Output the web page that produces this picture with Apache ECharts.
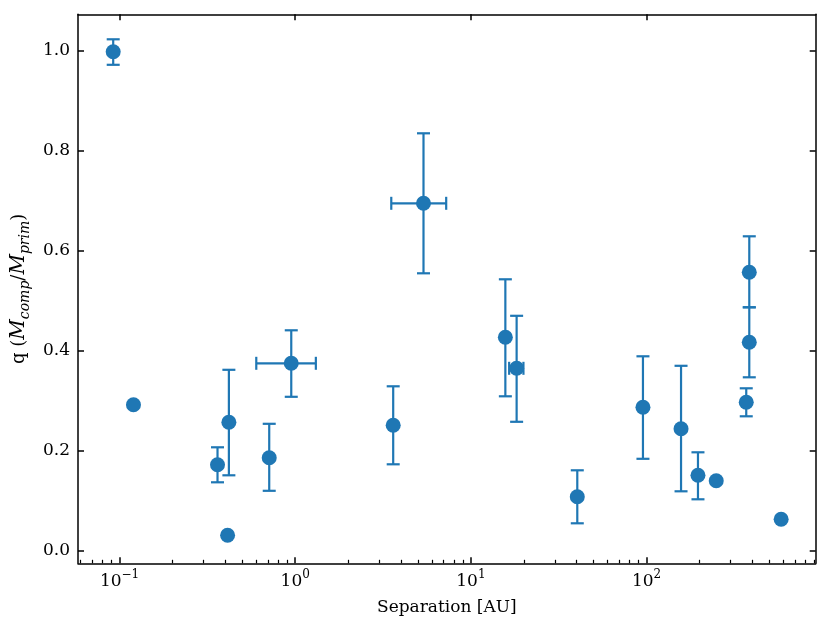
<!DOCTYPE html>
<html>
<head>
<meta charset="utf-8">
<title>Separation vs mass ratio</title>
<script src="https://cdn.jsdelivr.net/npm/echarts@6/dist/echarts.min.js"></script>
<style>
  html, body { margin: 0; padding: 0; background: #fff; }
  #main { width: 831px; height: 634px; }
</style>
</head>
<body>
<div id="main"></div>
<script>
// separation [AU] and mass ratio q
var separation = [0.092, 0.120, 0.361, 0.412, 0.419, 0.711, 0.949, 3.61, 5.37, 15.7, 18.2, 40.3, 95.3, 157, 196, 249, 369, 384, 384, 583];
var massRatio  = [0.998, 0.292, 0.172, 0.031, 0.257, 0.186, 0.375, 0.251, 0.695, 0.427, 0.365, 0.108, 0.287, 0.244, 0.151, 0.140, 0.297, 0.557, 0.417, 0.063];
// error bar bounds (null = no bar)
var qLow    = [0.972, null, 0.137, null, 0.151, 0.120, 0.308, 0.173, 0.555, 0.309, 0.258, 0.055, 0.184, 0.119, 0.103, null, 0.269, 0.487, 0.347, null];
var qHigh   = [1.023, null, 0.207, null, 0.362, 0.254, 0.441, 0.329, 0.835, 0.543, 0.470, 0.161, 0.389, 0.370, 0.197, null, 0.325, 0.629, 0.487, null];
var sepLow  = [null, null, null, null, null, null, 0.600, null, 3.52, null, 16.5, null, null, null, null, null, null, null, null, null];
var sepHigh = [null, null, null, null, null, null, 1.31, null, 7.23, null, 19.9, null, null, null, null, null, null, null, null, null];

// ticks
var xMajor = [0.1, 1, 10, 100];
var xMinor = [0.06, 0.07, 0.08, 0.09,
              0.2, 0.3, 0.4, 0.5, 0.6, 0.7, 0.8, 0.9,
              2, 3, 4, 5, 6, 7, 8, 9,
              20, 30, 40, 50, 60, 70, 80, 90,
              200, 300, 400, 500, 600, 700, 800, 900];
var yMajor = [0.0, 0.2, 0.4, 0.6, 0.8, 1.0];

var xRange = [0.058, 917];
var yRange = [-0.025, 1.073];

var blue = '#1f77b4';
var font = 'DejaVu Serif';
var lg = function (v) { return Math.log10(v); };

var xMin = lg(xRange[0]), xMax = lg(xRange[1]);
var majorLog = xMajor.map(lg);
var minorLog = xMinor.map(lg);

var axisLineStyle = { color: '#000', width: 1.5 };

function xAxisBase(extra) {
  var a = {
    type: 'value', min: xMin, max: xMax, gridIndex: 0,
    splitLine: { show: false },
    axisLine: { show: true, onZero: false, lineStyle: axisLineStyle },
    axisTick: { show: true, inside: true, length: 6, lineStyle: axisLineStyle, customValues: majorLog },
    axisLabel: { show: false }
  };
  for (var k in extra) a[k] = extra[k];
  return a;
}

var chart = echarts.init(document.getElementById('main'));

var option = {
  animation: false,
  textStyle: { fontFamily: font },
  grid: { left: 78, right: 15.3, top: 14.3, bottom: 70.7, containLabel: false },
  xAxis: [
    xAxisBase({
      position: 'bottom',
      name: 'Separation [AU]',
      nameLocation: 'middle',
      nameGap: 36,
      nameTextStyle: { fontFamily: font, fontSize: 17, color: '#000' },
      axisLabel: {
        show: true, margin: 6, customValues: majorLog,
        formatter: function (v) {
          var e = Math.round(v);
          return '{b|10}{s|' + (e < 0 ? '\u2212' + (-e) : e) + '}';
        },
        rich: {
          b: { fontFamily: font, fontSize: 17, lineHeight: 24, color: '#000' },
          s: { fontFamily: font, fontSize: 12, lineHeight: 13, color: '#000', verticalAlign: 'top' }
        }
      }
    }),
    xAxisBase({
      position: 'bottom',
      axisLine: { show: false, onZero: false },
      axisTick: { show: true, inside: true, length: 3.5, lineStyle: { color: '#000', width: 1.2 }, customValues: minorLog }
    }),
    xAxisBase({ position: 'top' })
  ],
  yAxis: [
    {
      type: 'value', min: yRange[0], max: yRange[1], position: 'left',
      splitLine: { show: false },
      axisLine: { show: true, onZero: false, lineStyle: axisLineStyle },
      axisTick: { show: true, inside: true, length: 6, lineStyle: axisLineStyle, customValues: yMajor },
      axisLabel: {
        show: true, margin: 8, customValues: yMajor,
        fontFamily: font, fontSize: 17, color: '#000',
        formatter: function (v) { return v.toFixed(1); }
      },
      name: '{r|q (}{i|M}{sub|comp}{r|/}{i|M}{sub|prim}{r|)}',
      nameLocation: 'middle',
      nameRotate: 90,
      nameGap: 33,
      nameTextStyle: {
        rich: {
          r: { fontFamily: font, fontSize: 18, lineHeight: 26, color: '#000' },
          i: { fontFamily: font, fontSize: 20, lineHeight: 26, color: '#000', fontStyle: 'italic' },
          sub: { fontFamily: font, fontSize: 14, lineHeight: 14, color: '#000', fontStyle: 'italic', verticalAlign: 'bottom' }
        }
      }
    },
    {
      type: 'value', min: yRange[0], max: yRange[1], position: 'right',
      splitLine: { show: false },
      axisLine: { show: true, onZero: false, lineStyle: axisLineStyle },
      axisTick: { show: true, inside: true, length: 6, lineStyle: axisLineStyle, customValues: yMajor },
      axisLabel: { show: false }
    }
  ],
  series: [
    {
      type: 'custom',
      xAxisIndex: 0, yAxisIndex: 0,
      clip: false,
      z: 2,
      data: separation.map(function (s, i) { return [lg(s), massRatio[i]]; }),
      renderItem: function (params, api) {
        var i = params.dataIndex;
        var x = lg(separation[i]), y = massRatio[i];
        var cap = 6.5;
        var style = { stroke: blue, lineWidth: 2.2, fill: null };
        var kids = [];
        if (qLow[i] != null) {
          var lo = api.coord([x, qLow[i]]), hi = api.coord([x, qHigh[i]]);
          kids.push({ type: 'line', shape: { x1: lo[0], y1: lo[1], x2: hi[0], y2: hi[1] }, style: style });
          kids.push({ type: 'line', shape: { x1: lo[0] - cap, y1: lo[1], x2: lo[0] + cap, y2: lo[1] }, style: style });
          kids.push({ type: 'line', shape: { x1: hi[0] - cap, y1: hi[1], x2: hi[0] + cap, y2: hi[1] }, style: style });
        }
        if (sepLow[i] != null) {
          var l = api.coord([lg(sepLow[i]), y]), r = api.coord([lg(sepHigh[i]), y]);
          kids.push({ type: 'line', shape: { x1: l[0], y1: l[1], x2: r[0], y2: r[1] }, style: style });
          kids.push({ type: 'line', shape: { x1: l[0], y1: l[1] - cap, x2: l[0], y2: l[1] + cap }, style: style });
          kids.push({ type: 'line', shape: { x1: r[0], y1: r[1] - cap, x2: r[0], y2: r[1] + cap }, style: style });
        }
        return { type: 'group', children: kids };
      }
    },
    {
      type: 'scatter',
      xAxisIndex: 0, yAxisIndex: 0,
      z: 3,
      symbol: 'circle',
      symbolSize: 15,
      itemStyle: { color: blue, opacity: 1 },
      data: separation.map(function (s, i) { return [lg(s), massRatio[i]]; })
    }
  ]
};

chart.setOption(option);
</script>
</body>
</html>
